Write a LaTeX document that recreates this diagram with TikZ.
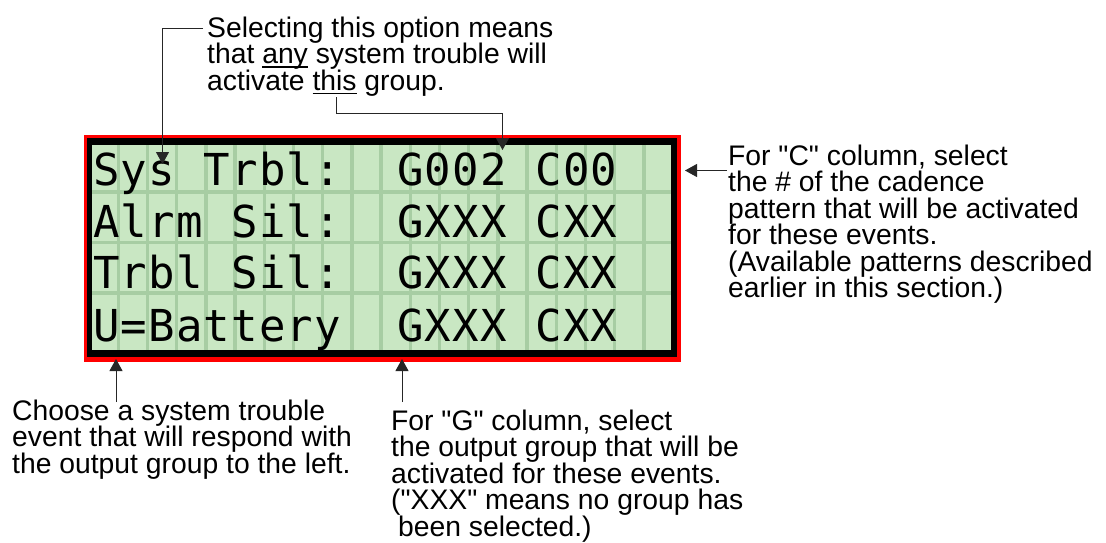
\documentclass[tikz,border=0pt]{standalone}
\usepackage{fontspec}
\setmainfont{Liberation Sans}
\newfontfamily\lcdfont{DejaVu Sans Mono}[RawFeature=+zero]
\usetikzlibrary{arrows.meta}
\definecolor{lcdred}{HTML}{FF0000}
\definecolor{lcdgreen}{HTML}{C9E7C3}
\definecolor{lcdgrid}{HTML}{A7CDA3}
\newsavebox\ulbox
\newcommand\ulx[1]{\sbox\ulbox{#1}\leavevmode\rlap{\rule[-4pt]{\wd\ulbox}{1.6pt}}\usebox\ulbox}
\newcommand\dq{\textquotedbl}
\makeatletter
\newcommand\lcdstr[1]{\@tfor\lcd@c:=#1\do{\makebox[27.64pt]{\lcd@c}}}
\makeatother
\lineskiplimit=-30pt
\begin{document}
\begin{tikzpicture}[x=1pt,y=-1pt,
  note/.style={anchor=north west, inner sep=0pt, align=left,
    font=\fontsize{28.3}{26.5}\selectfont},
  lead/.style={line width=1pt, draw=black!85},
  tip/.style={-{Triangle[length=12pt,width=13pt]}},
  lcdrow/.style={anchor=base west, inner sep=0pt,
    font=\lcdfont\fontsize{44}{46}\selectfont}]
\useasboundingbox (0,0) rectangle (1106,542);
% LCD frame
\fill[lcdred] (84,135) rectangle (681,362);
\fill[black] (87.3,138.3) rectangle (677.3,357.3);
\fill[lcdgreen] (92.3,145) rectangle (671.3,350);
\foreach \i in {0,...,18}
  \draw[lcdgrid, line width=3.5pt] ({118.3+29.2*\i},145) -- ++(0,205);
\foreach \yy in {192,242.5,293}
  \draw[lcdgrid, line width=3.5pt] (92.3,\yy) -- (671.3,\yy);
% LCD rows
\node[lcdrow] (row1) at (92.5,185) {\lcdstr{Sys~Trbl:~~G002~C00}};
\node[lcdrow] (row2) at (92.5,237) {\lcdstr{Alrm~Sil:~~GXXX~CXX}};
\node[lcdrow] (row3) at (92.5,288.5) {\lcdstr{Trbl~Sil:~~GXXX~CXX}};
\node[lcdrow] (row4) at (92.5,341.5) {\lcdstr{U=Battery~~GXXX~CXX}};
% notes
\node[note] (topnote) at (207,13) {\rule{0pt}{24pt}Selecting this option means\\that \ulx{any} system trouble will\\activate \ulx{this} group.};
\node[note] (rightnote) at (728,141) {\rule{0pt}{24pt}For \dq C\dq\ column, select\\the \# of the cadence\\pattern that will be activated\\for these events.\\(Available patterns described\\earlier in this section.)};
\node[note] (leftnote) at (12,396) {\rule{0pt}{24pt}Choose a system trouble\\event that will respond with\\the output group to the left.};
\node[note] (midnote) at (391,406) {\rule{0pt}{24pt}For \dq G\dq\ column, select\\the output group that will be\\activated for these events.\\(\dq XXX\dq\ means no group has\\\hspace*{7pt}been selected.)};
% connector points
\coordinate (selA) at (203,28);
\coordinate (selB) at (162.5,28);
\coordinate (sysTip) at (162.5,164);
\coordinate (thisA) at (336,97);
\coordinate (thisB) at (336,113);
\coordinate (thisC) at (502.5,113);
\coordinate (grpTip) at (502.5,150);
\coordinate (cA) at (727,170.5);
\coordinate (cTip) at (685,170.5);
\coordinate (lA) at (116,402);
\coordinate (lTip) at (116,359);
\coordinate (mA) at (402,402);
\coordinate (mTip) at (402,359);
\draw[lead,tip] (selA) -- (selB) -- (sysTip);
\draw[lead,tip] (thisA) -- (thisB) -- (thisC) -- (grpTip);
\draw[lead,tip] (cA) -- (cTip);
\draw[lead,tip] (lA) -- (lTip);
\draw[lead,tip] (mA) -- (mTip);
\end{tikzpicture}
\end{document}
